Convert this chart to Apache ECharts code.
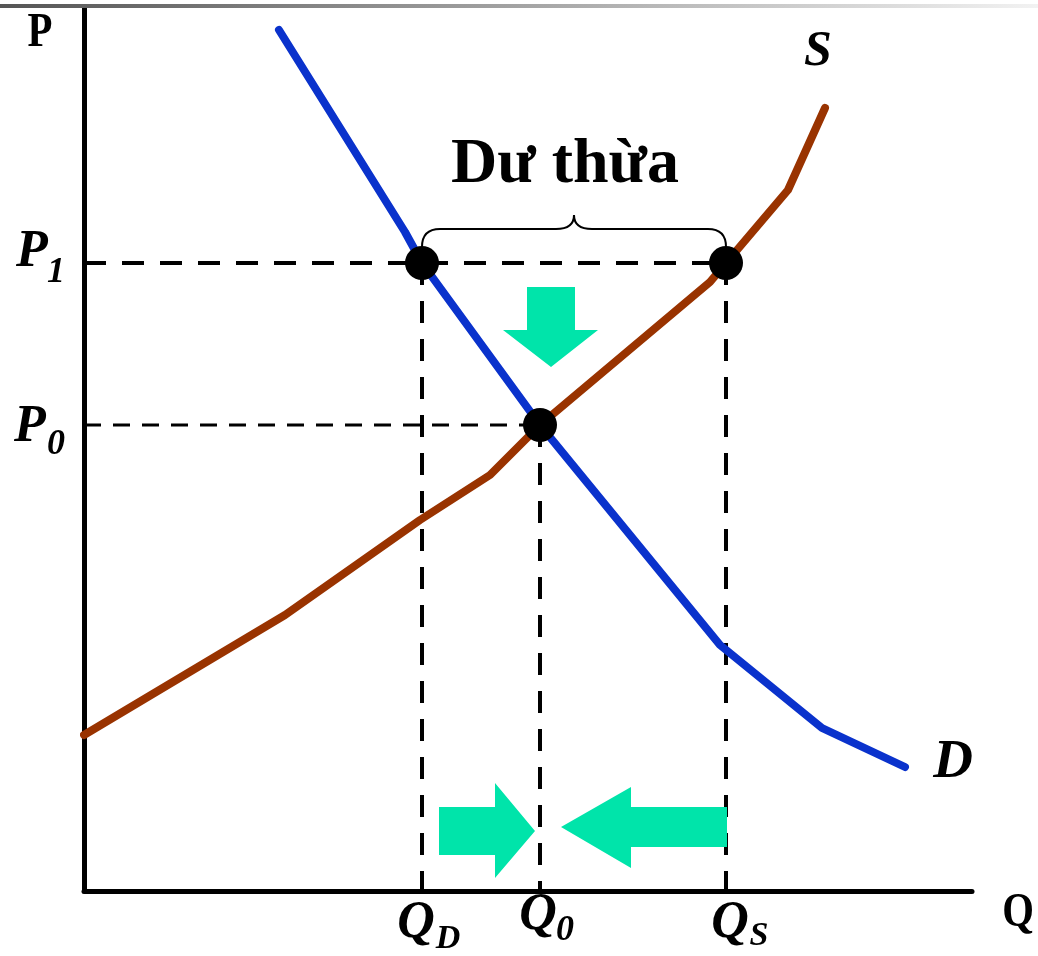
<!DOCTYPE html>
<html>
<head>
<meta charset="utf-8">
<script src="https://cdn.jsdelivr.net/npm/echarts@6/dist/echarts.min.js"></script>
<style>html,body{margin:0;padding:0;background:#fff}#c{width:1038px;height:956px}</style>
</head>
<body>
<div id="c"></div>
<script>
// Data (quantity, price) in chart units
const demand = [[195,861],[321,659],[338,628],[456,466],[636,246],[738,163],[821,124]];
const supply = [[0,156],[201,276],[336,371],[406,416],[456,466],[626,609],[642,628],[704,701],[741,783]];
const P1 = 628, P0 = 466;
const QD = 338, Q0 = 456, QS = 642;
const surplusLabel = 'Dư thừa';
// Arrow polygons (chart units)
const arrowDown = [[443,604],[491,604],[491,561],[514,561],[467,524],[419,561],[443,561]];
const arrowRight = [[355,84],[411,84],[411,108],[451,60],[411,13],[411,36],[355,36]];
const arrowLeft = [[643,84],[547,84],[547,104],[477,64],[547,23],[547,44],[643,44]];

const serif = '"Liberation Serif","Times New Roman",serif';
const chart = echarts.init(document.getElementById('c'), null, {renderer:'canvas'});
const blue = '#0A32CC', brown = '#993300', green = '#00E4AA';

const option = {
  animation:false,
  grid:{left:84, top:8, width:888, height:883, containLabel:false},
  xAxis:{type:'value', min:0, max:888, axisLine:{show:true, lineStyle:{color:'#000', width:5}}, axisTick:{show:false}, axisLabel:{show:false}, splitLine:{show:false}},
  yAxis:{type:'value', min:0, max:883, axisLine:{show:true, lineStyle:{color:'#000', width:5}}, axisTick:{show:false}, axisLabel:{show:false}, splitLine:{show:false}},
  series:[
    {type:'line', data:[[0,P1],[QS,P1]], symbol:'none', lineStyle:{color:'#000', width:4, type:[22,16]}, z:2},
    {type:'line', data:[[0,P0],[Q0,P0]], symbol:'none', lineStyle:{color:'#000', width:3, type:[17,12]}, z:2},
    {type:'line', data:[[QD,P1],[QD,0]], symbol:'none', lineStyle:{color:'#000', width:4, type:[22,16]}, z:2},
    {type:'line', data:[[Q0,P0],[Q0,0]], symbol:'none', lineStyle:{color:'#000', width:4, type:[22,16]}, z:2},
    {type:'line', data:[[QS,P1],[QS,0]], symbol:'none', lineStyle:{color:'#000', width:4, type:[22,16]}, z:2},
    {type:'line', data:demand, symbol:'none', lineStyle:{color:blue, width:8, cap:'round', join:'round'}, z:3},
    {type:'line', data:supply, symbol:'none', lineStyle:{color:brown, width:8, cap:'round', join:'round'}, z:3},
    {type:'scatter', data:[[QD,P1],[QS,P1],[Q0,P0]], symbol:'circle', symbolSize:34, itemStyle:{color:'#000', opacity:1}, z:5}
  ]
};
chart.setOption(option);

const px = p => chart.convertToPixel({gridIndex:0}, p);
const poly = pts => ({type:'polygon', shape:{points:pts.map(px)}, style:{fill:green}, z:10});
const txt = (s, x, y, size, italic, sx) => ({type:'text', x:x, y:y, scaleX:sx||1, z:20, style:{text:s, fill:'#000', font:(italic?'italic ':'')+'bold '+size+'px '+serif, align:'center', verticalAlign:'middle'}});
const bz = (x1,y1,cx,cy,x2,y2) => ({type:'bezierCurve', shape:{x1:x1,y1:y1,cpx1:cx,cpy1:cy,x2:x2,y2:y2}, style:{stroke:'#000', lineWidth:2, fill:null}, z:10});
const ln = (x1,y1,x2,y2) => ({type:'line', shape:{x1:x1,y1:y1,x2:x2,y2:y2}, style:{stroke:'#000', lineWidth:2}, z:10});

const pL = px([QD,P1]), pR = px([QS,P1]);
const pq1 = px([0,P1]), pq0 = px([0,P0]);
const qd = px([QD,0]), q0 = px([Q0,0]), qs = px([QS,0]);
const by = pL[1]-34, bm = (pL[0]+pR[0])/2, be = pL[1]-16;

chart.setOption({graphic:[
  {type:'rect', shape:{x:0, y:4, width:1038, height:4}, style:{fill:new echarts.graphic.LinearGradient(0,0,1,0,[{offset:0,color:'#555555'},{offset:1,color:'#f2f2f2'}])}, z:1},
  poly(arrowDown), poly(arrowRight), poly(arrowLeft),
  bz(pL[0],be,pL[0],by,pL[0]+18,by), ln(pL[0]+18,by,bm-18,by), bz(bm-18,by,bm,by,bm,by-14),
  bz(bm,by-14,bm,by,bm+18,by), ln(bm+18,by,pR[0]-18,by), bz(pR[0]-18,by,pR[0],by,pR[0],be),
  txt(surplusLabel, bm-9, 165, 64, false),
  txt('P', 40, 34, 48, false, 0.85),
  txt('Q', 1018, 914, 48, false, 0.85),
  txt('S', 818, 52, 50, true),
  txt('D', 953, 763, 55, true),
  txt('P', pq1[0]-52, pq1[1]-10, 52, true),
  txt('1', pq1[0]-28, pq1[1]+10, 36, true),
  txt('P', pq0[0]-54, pq0[1]+3, 52, true),
  txt('0', pq0[0]-28, pq0[1]+20, 36, true),
  txt('Q', qd[0]-6, qd[1]+33, 52, true),
  txt('D', qd[0]+26, qd[1]+48, 34, true),
  txt('Q', q0[0]-2, q0[1]+25, 52, true),
  txt('0', q0[0]+25, q0[1]+40, 36, true),
  txt('Q', qs[0]+4, qs[1]+33, 52, true),
  txt('S', qs[0]+33, qs[1]+45, 34, true)
]});
</script>
</body>
</html>
